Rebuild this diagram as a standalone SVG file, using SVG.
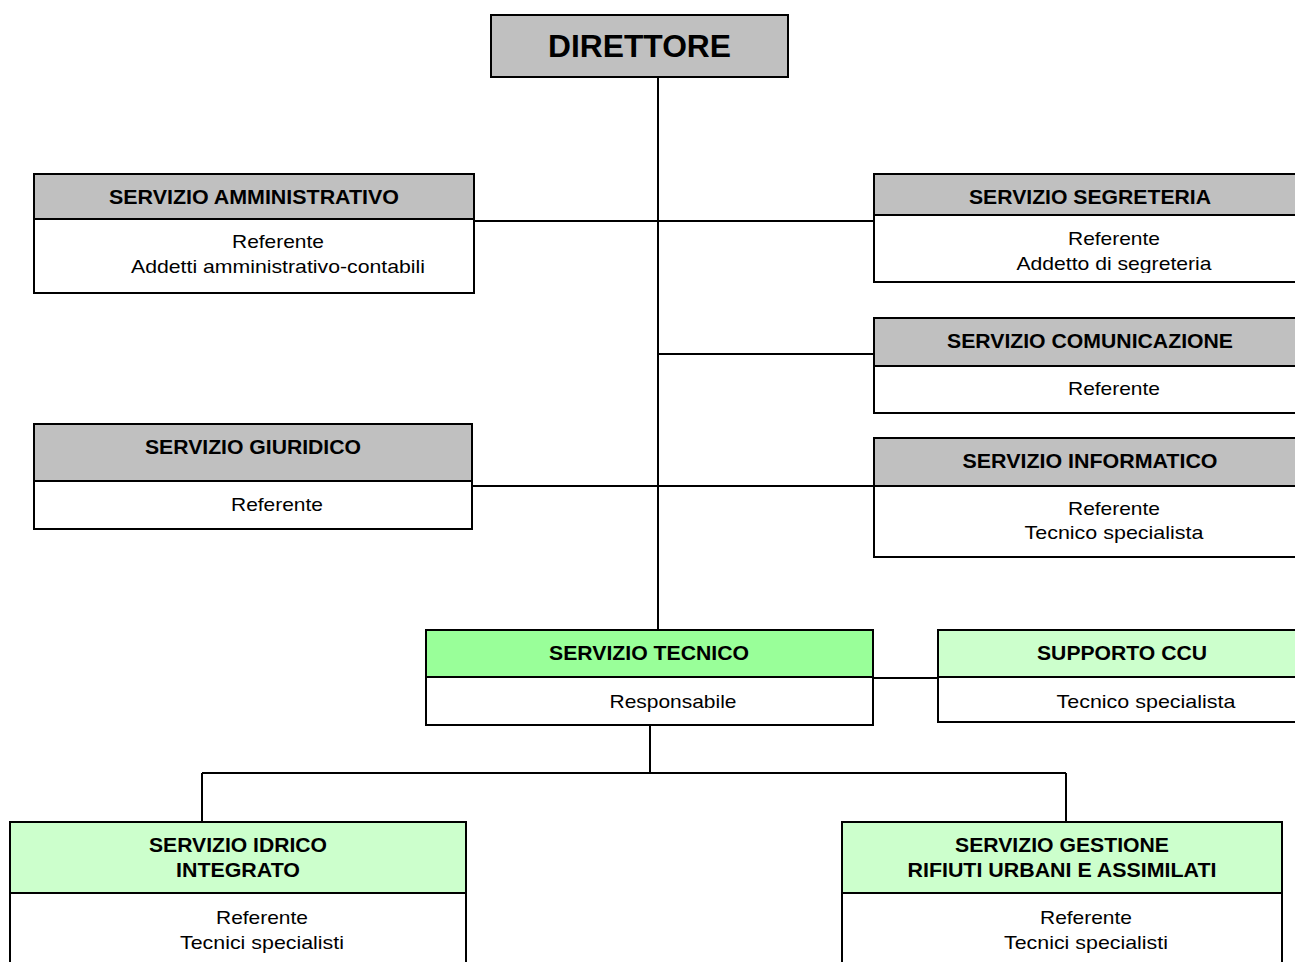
<svg xmlns="http://www.w3.org/2000/svg" width="1295" height="962" viewBox="0 0 1295 962">
<defs>
<style>
.box{stroke:#000;stroke-width:2}
.g{fill:#c0c0c0}
.w{fill:#fff}
.lg{fill:#ccffcc}
.dg{fill:#99ff99}
.h{font-family:"Liberation Sans",Arial,sans-serif;font-weight:bold;font-size:20px;fill:#000;text-anchor:middle}
.t{font-family:"Liberation Sans",Arial,sans-serif;font-size:19px;fill:#000;text-anchor:middle}
.c{stroke:#000;stroke-width:2;fill:none}
</style>
<clipPath id="clipSeg"><rect x="874" y="215" width="430" height="58"/></clipPath>
</defs>
<rect width="1295" height="962" fill="#fff"/>
<g id="connectors">
<path class="c" d="M658 77V630"/>
<path class="c" d="M474 221H874"/>
<path class="c" d="M658 354H874"/>
<path class="c" d="M472 486H874"/>
<path class="c" d="M873 678H938"/>
<path class="c" d="M650 725V773M202 773H1066M202 773V822M1066 773V822"/>
</g>
<g id="direttore">
<rect class="box g" x="491" y="15" width="297" height="62"/>
<text x="639.5" y="57" class="h" style="font-size:31.5px" textLength="183" lengthAdjust="spacingAndGlyphs">DIRETTORE</text>
</g>
<g id="amministrativo">
<rect class="box g" x="34" y="174" width="440" height="45"/>
<rect class="box w" x="34" y="219" width="440" height="74"/>
<text x="254" y="204" class="h" textLength="290" lengthAdjust="spacingAndGlyphs">SERVIZIO AMMINISTRATIVO</text>
<text x="278" y="248" class="t" textLength="92" lengthAdjust="spacingAndGlyphs">Referente</text>
<text x="278" y="273" class="t" textLength="294" lengthAdjust="spacingAndGlyphs">Addetti amministrativo-contabili</text>
</g>
<g id="segreteria">
<rect class="box g" x="874" y="174" width="430" height="41"/>
<rect class="box w" x="874" y="215" width="430" height="67"/>
<text x="1090" y="204" class="h" textLength="242" lengthAdjust="spacingAndGlyphs">SERVIZIO SEGRETERIA</text>
<g clip-path="url(#clipSeg)">
<text x="1114" y="245" class="t" textLength="92" lengthAdjust="spacingAndGlyphs">Referente</text>
<text x="1114" y="270" class="t" textLength="195" lengthAdjust="spacingAndGlyphs">Addetto di segreteria</text>
</g>
</g>
<g id="comunicazione">
<rect class="box g" x="874" y="318" width="430" height="48"/>
<rect class="box w" x="874" y="366" width="430" height="47"/>
<text x="1090" y="348" class="h" textLength="286" lengthAdjust="spacingAndGlyphs">SERVIZIO COMUNICAZIONE</text>
<text x="1114" y="395" class="t" textLength="92" lengthAdjust="spacingAndGlyphs">Referente</text>
</g>
<g id="giuridico">
<rect class="box g" x="34" y="424" width="438" height="57"/>
<rect class="box w" x="34" y="481" width="438" height="48"/>
<text x="253" y="454" class="h" textLength="216" lengthAdjust="spacingAndGlyphs">SERVIZIO GIURIDICO</text>
<text x="277" y="511" class="t" textLength="92" lengthAdjust="spacingAndGlyphs">Referente</text>
</g>
<g id="informatico">
<rect class="box g" x="874" y="438" width="430" height="48"/>
<rect class="box w" x="874" y="486" width="430" height="71"/>
<text x="1090" y="468" class="h" textLength="255" lengthAdjust="spacingAndGlyphs">SERVIZIO INFORMATICO</text>
<text x="1114" y="515" class="t" textLength="92" lengthAdjust="spacingAndGlyphs">Referente</text>
<text x="1114" y="539" class="t" textLength="179" lengthAdjust="spacingAndGlyphs">Tecnico specialista</text>
</g>
<g id="tecnico">
<rect class="box dg" x="426" y="630" width="447" height="47"/>
<rect class="box w" x="426" y="677" width="447" height="48"/>
<text x="649" y="660" class="h" textLength="200" lengthAdjust="spacingAndGlyphs">SERVIZIO TECNICO</text>
<text x="673" y="708" class="t" textLength="127" lengthAdjust="spacingAndGlyphs">Responsabile</text>
</g>
<g id="ccu">
<rect class="box lg" x="938" y="630" width="366" height="47"/>
<rect class="box w" x="938" y="677" width="366" height="45"/>
<text x="1122" y="660" class="h" textLength="170" lengthAdjust="spacingAndGlyphs">SUPPORTO CCU</text>
<text x="1146" y="708" class="t" textLength="179" lengthAdjust="spacingAndGlyphs">Tecnico specialista</text>
</g>
<g id="idrico">
<rect class="box lg" x="10" y="822" width="456" height="71"/>
<rect class="box w" x="10" y="893" width="456" height="80"/>
<text x="238" y="852" class="h" textLength="178" lengthAdjust="spacingAndGlyphs">SERVIZIO IDRICO</text>
<text x="238" y="877" class="h" textLength="124" lengthAdjust="spacingAndGlyphs">INTEGRATO</text>
<text x="262" y="924" class="t" textLength="92" lengthAdjust="spacingAndGlyphs">Referente</text>
<text x="262" y="949" class="t" textLength="164" lengthAdjust="spacingAndGlyphs">Tecnici specialisti</text>
</g>
<g id="rifiuti">
<rect class="box lg" x="842" y="822" width="440" height="71"/>
<rect class="box w" x="842" y="893" width="440" height="80"/>
<text x="1062" y="852" class="h" textLength="214" lengthAdjust="spacingAndGlyphs">SERVIZIO GESTIONE</text>
<text x="1062" y="877" class="h" textLength="309" lengthAdjust="spacingAndGlyphs">RIFIUTI URBANI E ASSIMILATI</text>
<text x="1086" y="924" class="t" textLength="92" lengthAdjust="spacingAndGlyphs">Referente</text>
<text x="1086" y="949" class="t" textLength="164" lengthAdjust="spacingAndGlyphs">Tecnici specialisti</text>
</g>
</svg>
